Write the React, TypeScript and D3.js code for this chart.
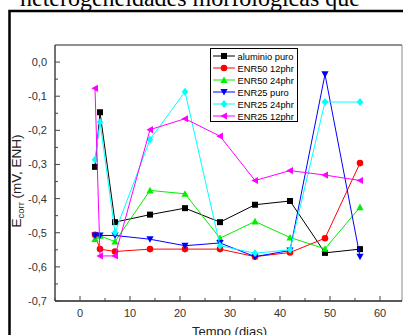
import React, { useEffect, useRef } from 'react';
import * as d3 from 'd3';

// days of immersion
const days = [3, 4, 7, 14, 21, 28, 35, 42, 49, 56];

// Ecorr values (V) per series
const aluminioPuro = [-0.307, -0.147, -0.469, -0.447, -0.428, -0.469, -0.418, -0.407, -0.559, -0.548];
const enr50_12 = [-0.506, -0.548, -0.555, -0.548, -0.548, -0.548, -0.570, -0.558, -0.516, -0.296];
const enr50_24 = [-0.518, -0.509, -0.526, -0.376, -0.386, -0.516, -0.467, -0.514, -0.547, -0.425];
const enr25Puro = [-0.508, -0.508, -0.508, -0.519, -0.538, -0.530, -0.570, -0.552, -0.036, -0.570];
const enr25_24 = [-0.286, -0.176, -0.499, -0.227, -0.087, -0.538, -0.560, -0.550, -0.117, -0.117];
const enr25_12 = [-0.077, -0.568, -0.568, -0.198, -0.166, -0.217, -0.347, -0.318, -0.331, -0.347];

const seriesNames = ['aluminio puro', 'ENR50 12phr', 'ENR50 24phr', 'ENR25 puro', 'ENR25 24phr', 'ENR25 12phr'];
const seriesValues = [aluminioPuro, enr50_12, enr50_24, enr25Puro, enr25_24, enr25_12];
const seriesColors = ['#000000', '#ff0000', '#00ee00', '#0000ff', '#00ffff', '#ff00ff'];
const seriesMarkers = ['square', 'circle', 'up', 'down', 'diamond', 'left'];

const xTicks = [0, 10, 20, 30, 40, 50, 60];
const yTicks = [0, -0.1, -0.2, -0.3, -0.4, -0.5, -0.6, -0.7];

const W = 403;
const H = 335;

const markerPath = (kind: string, s: number) => {
  switch (kind) {
    case 'square':
      return `M${-s},${-s}H${s}V${s}H${-s}Z`;
    case 'circle':
      return d3.symbol(d3.symbolCircle, Math.PI * s * s * 1.2)() as string;
    case 'up':
      return `M0,${-s * 1.2}L${s * 1.2},${s}L${-s * 1.2},${s}Z`;
    case 'down':
      return `M0,${s * 1.2}L${s * 1.2},${-s}L${-s * 1.2},${-s}Z`;
    case 'diamond':
      return `M0,${-s * 1.3}L${s * 1.1},0L0,${s * 1.3}L${-s * 1.1},0Z`;
    case 'left':
      return `M${-s * 1.2},0L${s},${-s * 1.2}L${s},${s * 1.2}Z`;
  }
  return '';
};

const App = () => {
  const ref = useRef<SVGSVGElement>(null);

  useEffect(() => {
    const svg = d3.select(ref.current);
    svg.selectAll('*').remove();

    const left = 55, right = 402, top = 45, bottom = 301;

    const x = d3.scaleLinear().domain([-5, 64.4]).range([left, right]);
    const y = d3.scaleLinear().domain([-0.7, 0.05]).range([bottom, top]);

    // page heading cut at the top
    svg.append('text')
      .attr('x', 20)
      .attr('y', 6)
      .attr('font-family', 'Liberation Serif, serif')
      .attr('font-size', 24)
      .attr('fill', '#000')
      .text('heterogeneidades morfológicas que');

    // outer frame
    svg.append('rect')
      .attr('x', 9.5).attr('y', 11).attr('width', 420).attr('height', 360)
      .attr('fill', 'none').attr('stroke', '#000').attr('stroke-width', 2.5);

    // plot frame
    svg.append('line').attr('x1', left).attr('x2', right).attr('y1', top).attr('y2', top)
      .attr('stroke', '#222').attr('stroke-width', 1.2);
    svg.append('line').attr('x1', right).attr('x2', right).attr('y1', top).attr('y2', bottom)
      .attr('stroke', '#888').attr('stroke-width', 1);
    svg.append('line').attr('x1', left).attr('x2', left).attr('y1', top).attr('y2', bottom)
      .attr('stroke', '#444').attr('stroke-width', 1.5);
    svg.append('line').attr('x1', left).attr('x2', right).attr('y1', bottom).attr('y2', bottom)
      .attr('stroke', '#222').attr('stroke-width', 1.5);

    // ticks
    const g = svg.append('g');
    d3.range(-5, 65, 5).forEach(v => {
      const major = v % 10 === 0;
      g.append('line').attr('x1', x(v)).attr('x2', x(v))
        .attr('y1', bottom).attr('y2', bottom - (major ? 5 : 3))
        .attr('stroke', '#444');
    });
    d3.range(-14, 1).forEach(i => {
      const v = i * 0.05;
      const major = i % 2 === 0;
      g.append('line').attr('x1', left).attr('x2', left + (major ? 5 : 3))
        .attr('y1', y(v)).attr('y2', y(v))
        .attr('stroke', '#444');
    });

    xTicks.forEach(v => {
      g.append('text').attr('x', x(v)).attr('y', bottom + 16)
        .attr('text-anchor', 'middle')
        .attr('font-family', 'Liberation Sans, Arial, sans-serif')
        .attr('font-size', 11).attr('fill', '#333')
        .text(String(v));
    });
    yTicks.forEach(v => {
      g.append('text').attr('x', left - 8).attr('y', y(v) + 4)
        .attr('text-anchor', 'end')
        .attr('font-family', 'Liberation Sans, Arial, sans-serif')
        .attr('font-size', 11).attr('fill', '#333')
        .text(v.toFixed(1).replace('.', ','));
    });

    // axis titles
    svg.append('text')
      .attr('transform', `translate(21,181) rotate(-90)`)
      .attr('text-anchor', 'middle')
      .attr('font-family', 'Liberation Sans, Arial, sans-serif')
      .attr('font-size', 13.5).attr('fill', '#222')
      .html('E<tspan font-size="9.5" dy="3">corr</tspan><tspan dy="-3"> (mV, ENH)</tspan>');

    svg.append('text')
      .attr('x', (left + right) / 2 + 1).attr('y', 336)
      .attr('text-anchor', 'middle')
      .attr('font-family', 'Liberation Sans, Arial, sans-serif')
      .attr('font-size', 13).attr('fill', '#222')
      .text('Tempo (dias)');

    // series
    const line = d3.line<number>().x((_, i) => x(days[i])).y(d => y(d));
    seriesValues.forEach((vals, k) => {
      svg.append('path')
        .attr('d', line(vals))
        .attr('fill', 'none')
        .attr('stroke', seriesColors[k])
        .attr('stroke-width', 1);
      svg.append('g').selectAll('path')
        .data(vals)
        .enter()
        .append('path')
        .attr('transform', (d, i) => `translate(${x(days[i])},${y(d)})`)
        .attr('d', markerPath(seriesMarkers[k], 3))
        .attr('fill', seriesColors[k]);
    });

    // legend
    const lg = svg.append('g');
    lg.append('rect').attr('x', 210.5).attr('y', 48.5).attr('width', 87).attr('height', 73)
      .attr('fill', '#fff').attr('stroke', '#000').attr('stroke-width', 1);
    seriesNames.forEach((name, k) => {
      const cy = 56 + k * 12;
      lg.append('line').attr('x1', 213).attr('x2', 235).attr('y1', cy).attr('y2', cy)
        .attr('stroke', seriesColors[k]).attr('stroke-width', 1);
      lg.append('path').attr('transform', `translate(224,${cy})`)
        .attr('d', markerPath(seriesMarkers[k], 3)).attr('fill', seriesColors[k]);
      lg.append('text').attr('x', 237.5).attr('y', cy + 3.5)
        .attr('font-family', 'Liberation Sans, Arial, sans-serif')
        .attr('font-size', 9.3).attr('fill', '#000')
        .text(name);
    });

    return () => {
      svg.selectAll('*').remove();
    };
  }, []);

  return (
    <svg ref={ref} width={W} height={H}
      style={{ position: 'absolute', left: 0, top: 0, background: '#fff' }} />
  );
};

export default App;
